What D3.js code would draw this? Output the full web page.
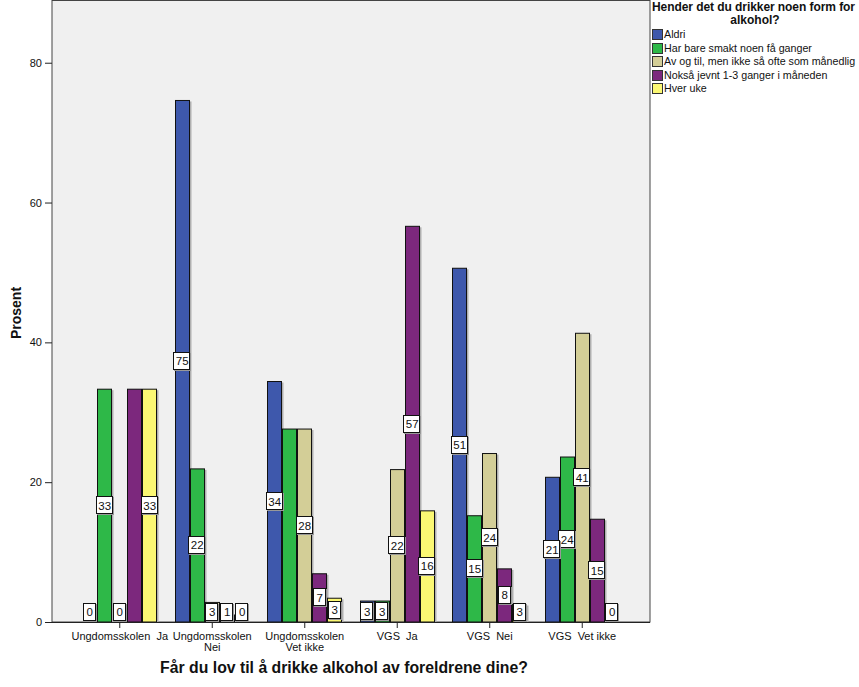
<!DOCTYPE html>
<html><head><meta charset="utf-8">
<script src="https://cdn.jsdelivr.net/npm/d3@7"></script>
<style>body{margin:0;background:#fff;}svg{display:block;font-family:"Liberation Sans",Arial,sans-serif;}</style>
</head><body><svg id="c" width="859" height="687"></svg>
<script>
const categories = ["Ungdomsskolen  Ja", "Ungdomsskolen\nNei", "Ungdomsskolen\nVet ikke", "VGS  Ja", "VGS  Nei", "VGS  Vet ikke"];
const seriesNames = ["Aldri", "Har bare smakt noen få ganger", "Av og til, men ikke så ofte som månedlig", "Nokså jevnt 1-3 ganger i måneden", "Hver uke"];
const seriesColors = ["#3E58AC", "#2EB848", "#D3CE97", "#7C287D", "#FBF873"];
const aldri   = [0, 74.6, 34.4, 3.0, 50.6, 20.7];
const smakt   = [33.3, 21.9, 27.6, 3.0, 15.2, 23.6];
const avogtil = [0, 2.8, 27.6, 21.8, 24.1, 41.3];
const noksa   = [33.3, 1.0, 6.9, 56.6, 7.6, 14.7];
const hverUke = [33.3, 0, 3.4, 15.9, 2.5, 0];
const seriesValues = [aldri, smakt, avogtil, noksa, hverUke];
const yTicks = [0, 20, 40, 60, 80];
const legendTitle = ["Hender det du drikker noen form for", "alkohol?"];
const xTitle = "Får du lov til å drikke alkohol av foreldrene dine?";
const yTitle = "Prosent";

const svg = d3.select("#c");
const L = 52, R = 650, T = 0.5, B = 622;
const y = d3.scaleLinear().domain([0, 88.9]).range([B, T]);
const x0 = d3.scaleBand().domain(categories).range([L, R]).paddingInner(0).paddingOuter(0.2325);
const x1 = d3.scaleBand().domain(seriesNames).range([-37.5, 37.5]);

// plot background
svg.append("rect").attr("x", L).attr("y", T).attr("width", R - L).attr("height", B - T)
  .attr("fill", "#F0F0F0").attr("stroke", "#444").attr("stroke-width", 1);

// bars
const data = [];
categories.forEach((c, i) => seriesNames.forEach((s, j) => data.push({c, i, s, j, v: seriesValues[j][i]})));
const g = svg.append("g");
data.forEach(d => {
  const bx = Math.round(x0(d.c) + x0.bandwidth() / 2 + x1(d.s)) + 0.5;
  const by = y(d.v);
  const h = B - by;
  if (h > 0.5) {
    g.append("rect").attr("x", bx + 1).attr("y", by + 1).attr("width", x1.bandwidth()).attr("height", h - 1)
      .attr("fill", "#b0b0b0");
    g.append("rect").attr("x", bx).attr("y", by).attr("width", x1.bandwidth() - 1).attr("height", h)
      .attr("fill", seriesColors[d.j]).attr("stroke", "#111").attr("stroke-width", 1);
  }
});

// axes
const yAxis = d3.axisLeft(y).tickValues(yTicks).tickSize(7).tickPadding(3).tickFormat(d3.format("d"));
const ya = svg.append("g").attr("transform", `translate(${L},0)`).call(yAxis);
ya.select(".domain").remove();
ya.selectAll("line").attr("stroke", "#222");
ya.selectAll("text").attr("font-size", 11).attr("fill", "#111").attr("font-family", "Liberation Sans, Arial, sans-serif");

const xAxis = d3.axisBottom(x0).tickSize(6).tickFormat("");
const xa = svg.append("g").attr("transform", `translate(0,${B})`).call(xAxis);
xa.select(".domain").attr("stroke", "#222").attr("d", `M${L},0.5H${R}`);
xa.selectAll("line").attr("stroke", "#222");
categories.forEach(c => {
  const lines = c.split("\n");
  const t = svg.append("text").attr("x", x0(c) + x0.bandwidth() / 2).attr("y", 640)
    .attr("text-anchor", "middle").attr("font-size", 11).attr("fill", "#111");
  lines.forEach((ln, k) => t.append("tspan").attr("x", x0(c) + x0.bandwidth() / 2).attr("dy", k ? 11 : 0)
    .attr("xml:space", "preserve").style("white-space", "pre").text(ln));
});

// value labels (overlapping labels are dropped, later series placed first)
const lg = svg.append("g");
const placed = [];
data.slice().reverse().forEach(d => {
  const cx = x0(d.c) + x0.bandwidth() / 2 + x1(d.s) + x1.bandwidth() / 2;
  const mid = (y(d.v) + B) / 2;
  const cy = Math.min(mid, 612);
  const txt = d3.format(".0f")(d.v);
  const w = txt.length > 1 ? 16 : 12;
  const hgt = 17;
  const box = {x1: cx - w / 2, x2: cx + w / 2, y1: cy - hgt / 2, y2: cy + hgt / 2};
  const hit = placed.some(p => (Math.min(box.x2, p.x2) - Math.max(box.x1, p.x1)) > 0 &&
                               (Math.min(box.y2, p.y2) - Math.max(box.y1, p.y1)) > 10);
  if (hit) return;
  placed.push(box);
  lg.append("rect").attr("x", Math.round(cx - w / 2) - 0.5 + 1).attr("y", Math.round(cy - hgt / 2) - 0.5 + 1)
    .attr("width", w).attr("height", hgt).attr("fill", "none").attr("stroke", "#999").attr("stroke-width", 1);
  lg.append("rect").attr("x", Math.round(cx - w / 2) - 0.5).attr("y", Math.round(cy - hgt / 2) - 0.5)
    .attr("width", w).attr("height", hgt).attr("fill", "#fff").attr("stroke", "#111").attr("stroke-width", 1);
  lg.append("text").attr("x", cx).attr("y", cy + 4).attr("text-anchor", "middle")
    .attr("font-size", 11.5).attr("fill", "#111").text(txt);
});

// titles
svg.append("text").attr("x", 344).attr("y", 673).attr("text-anchor", "middle")
  .attr("font-size", 15.8).attr("font-weight", "bold").attr("fill", "#111").text(xTitle);
svg.append("text").attr("transform", "translate(21,313) rotate(-90)").attr("text-anchor", "middle")
  .attr("font-size", 14).attr("font-weight", "bold").attr("fill", "#111").text(yTitle);

// legend
const leg = svg.append("g");
leg.append("text").attr("x", 652).attr("y", 11).attr("font-size", 12).attr("font-weight", "bold").attr("fill", "#111")
  .attr("textLength", 203).attr("lengthAdjust", "spacing").text(legendTitle[0]);
leg.append("text").attr("x", 755).attr("y", 24).attr("text-anchor", "middle").attr("font-size", 12).attr("font-weight", "bold").attr("fill", "#111").text(legendTitle[1]);
seriesNames.forEach((s, j) => {
  const cy = 34.3 + j * 13.5;
  leg.append("rect").attr("x", 652.5).attr("y", Math.round(cy - 5) + 0.5).attr("width", 10).attr("height", 10)
    .attr("fill", seriesColors[j]).attr("stroke", "#333").attr("stroke-width", 1);
  leg.append("text").attr("x", 664).attr("y", cy + 4).attr("font-size", 10.7).attr("fill", "#111").text(s);
});
</script></body></html>
